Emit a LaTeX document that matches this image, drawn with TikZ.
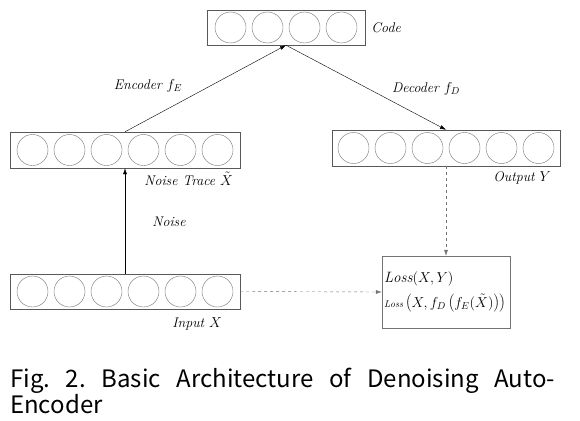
\documentclass[tikz,border=0pt]{standalone}
\usepackage{fontspec}
\newfontfamily\capfont{Noto Sans CJK KR}
\usetikzlibrary{positioning, arrows.meta}

\begin{document}
\begin{tikzpicture}[x=1pt, y=-1pt, font=\fontsize{14}{16}\selectfont,
  layer/.style={draw=black!65, minimum height=36pt, inner sep=0pt},
  u/.style={circle, draw=black!55, minimum size=31pt, inner sep=0pt},
  lab/.style={inner sep=0pt, font=\fontsize{14}{16}\selectfont\itshape},
  a/.style={-{Latex[length=6pt, width=4pt]}},
  d/.style={a, dashed, draw=black!55}]
  \useasboundingbox (0,0) rectangle (580,420);

  % layers
  \node[layer, minimum width=158pt, minimum height=35pt] (code) at (286,27.5) {};
  \node[layer, minimum width=230pt] (noise) at (125,150) {};
  \node[layer, minimum width=228pt] (out) at (446,148) {};
  \node[layer, minimum width=230pt, minimum height=35pt] (in) at (125,291.5) {};
  \node[draw=black!55, minimum width=128pt, minimum height=72pt, inner sep=2pt, text width=124pt, align=left] (loss) at (446,292)
    {{\fontsize{15}{17}\selectfont $\mathit{Loss}(X,Y)$}\\[7pt]
     ${\scriptstyle\mathit{Loss}}\left(X, f_D\left(f_E(\tilde{X})\right)\right)$};

  % units
  \foreach \i in {1,...,4}
    \node[u] (c\i) at ([xshift={(\i-2.5)*37pt}]code.center) {};
  \foreach \i in {1,...,6} {
    \node[u] (n\i) at ([xshift={(\i-3.5)*37pt}]noise.center) {};
    \node[u] (o\i) at ([xshift={(\i-3.5)*37pt}]out.center) {};
    \node[u] (x\i) at ([xshift={(\i-3.5)*37pt}]in.center) {};
  }

  % labels
  \node[lab, below=4pt of noise.south east, anchor=north east, xshift=-7pt] (noise_label) {Noise Trace $\tilde{X}$};
  \node[lab, right=6pt of code] (code_label) {Code};
  \node[lab, below=5pt of out.south east, anchor=north east, xshift=-9pt] (out_label) {Output $Y$};
  \node[lab, below=8pt of in.south east, anchor=north east, xshift=-18pt] (in_label) {Input $X$};
  \node[lab] (enc_label) at (148,86) {Encoder $f_E$};
  \node[lab] (dec_label) at (426,89) {Decoder $f_D$};
  \node[lab] (noise_arrow_label) at (169,222) {Noise};

  % connections
  \draw[a] (noise.north) -- (code.south);
  \draw[a] (code.south) -- (out.north);
  \draw[a] (in.north) -- (noise.south);
  \draw[d] (in.east) -- (loss.west);
  \draw[d] (out.south) -- (loss.north);

  \node[anchor=base west, inner sep=0pt] (caption) at (10,387)
    {\parbox[t]{545pt}{\capfont\frenchspacing\fontsize{24}{25}\selectfont Fig. 2. Basic Architecture of Denoising Auto-\linebreak Encoder}};
\end{tikzpicture}
\end{document}
